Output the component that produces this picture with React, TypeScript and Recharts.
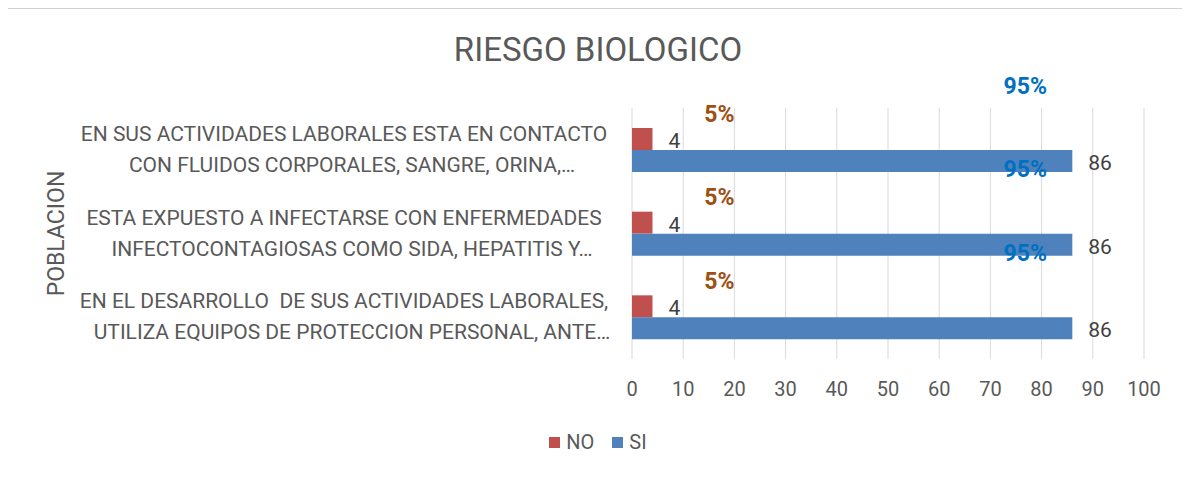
import { BarChart, Bar, XAxis, YAxis, CartesianGrid, Legend, LabelList } from 'recharts';

// Categories (two display lines each, as in the source chart)
const categories = [
  'EN SUS ACTIVIDADES LABORALES ESTA EN CONTACTO\nCON FLUIDOS CORPORALES, SANGRE, ORINA,…',
  'ESTA EXPUESTO A INFECTARSE CON ENFERMEDADES\nINFECTOCONTAGIOSAS COMO SIDA, HEPATITIS Y…',
  'EN EL DESARROLLO  DE SUS ACTIVIDADES LABORALES,\nUTILIZA EQUIPOS DE PROTECCION PERSONAL, ANTE…',
];
const noValues = [4, 4, 4];
const siValues = [86, 86, 86];
const noPercent = [5, 5, 5];
const siPercent = [95, 95, 95];
const xTicks = [0, 10, 20, 30, 40, 50, 60, 70, 80, 90, 100];

const data = categories.map((name, i) => ({
  name,
  no: noValues[i],
  si: siValues[i],
  noPct: noPercent[i],
  siPct: siPercent[i],
}));

const FONT = 'Roboto, "Noto Sans", sans-serif';
const TEXT = '#595959';

const CategoryTick = ({ x, y, payload }: any) => {
  const lines = String(payload.value).split('\n');
  return (
    <text x={x - 280} y={y} textAnchor="middle" fill={TEXT} fontSize={21} fontFamily={FONT} style={{ whiteSpace: 'pre' }}>
      <tspan x={x - 280} dy={-9}>{lines[0]}</tspan>
      <tspan x={x - 272} dy={31}>{lines[1]}</tspan>
    </text>
  );
};

// percentage labels float above the bars like in the Excel original
const NoPctLabel = ({ x, y, width, value }: any) => (
  <text x={x + width + 67} y={y - 14} textAnchor="middle" dominantBaseline="central"
    fill="#9C5011" fontSize={23} fontWeight="bold" fontFamily={FONT}>{value}%</text>
);

const SiPctLabel = ({ x, y, width, value }: any) => (
  <text x={x + width - 47} y={y - 64} textAnchor="middle" dominantBaseline="central"
    fill="#0070C0" fontSize={23} fontWeight="bold" fontFamily={FONT}>{value}%</text>
);

const ValueLabel = ({ x, y, width, height, value }: any) => (
  <text x={x + width + 16} y={y + height / 2 + 2} dominantBaseline="central"
    fill="#404040" fontSize={21} fontFamily={FONT}>{value}</text>
);

const LegendContent = ({ payload }: any) => (
  <div style={{ display: 'flex', justifyContent: 'center', gap: 18, fontFamily: FONT, fontSize: 20, color: TEXT }}>
    {(payload || []).map((p: any) => (
      <span key={p.value} style={{ display: 'flex', alignItems: 'center', gap: 6 }}>
        <span style={{ width: 11, height: 11, background: p.color, display: 'inline-block' }} />
        {p.value}
      </span>
    ))}
  </div>
);

export default function App() {
  return (
    <div style={{ position: 'relative', marginLeft: -3, width: 1184, height: 459, borderLeft: '1px solid #d0d0d0', borderTop: '1px solid #d0d0d0', background: '#fff' }}>
      <div style={{ position: 'absolute', top: 21, left: 0, width: 1184, textAlign: 'center', fontFamily: FONT, fontSize: 33, color: TEXT }}>
        RIESGO BIOLOGICO
      </div>
      <BarChart layout="vertical" width={1184} height={452} data={data}
        margin={{ top: 99, right: 46, bottom: 62, left: 0 }} barSize={22} barGap={0}>
        <CartesianGrid horizontal={false} stroke="#d9d9d9" />
        <XAxis type="number" domain={[0, 100]} ticks={xTicks} axisLine={false} tickLine={false}
          tickSize={0} tickMargin={23} height={40} interval={0}
          tick={{ fill: TEXT, fontSize: 20, fontFamily: FONT }} />
        <YAxis type="category" dataKey="name" width={626} axisLine={false} tickLine={false}
          tick={<CategoryTick />} interval={0}
          label={{ value: 'POBLACION', angle: -90, position: 'insideLeft', offset: 50,
            style: { textAnchor: 'middle', fill: TEXT, fontSize: 23, fontFamily: FONT } }} />
        <Legend verticalAlign="middle" layout="horizontal" content={<LegendContent />}
          wrapperStyle={{ top: 421, left: 0, width: 1184 }} />
        <Bar dataKey="no" name="NO" fill="#C0504D" isAnimationActive={false}>
          <LabelList dataKey="no" content={<ValueLabel />} />
          <LabelList dataKey="noPct" content={<NoPctLabel />} />
        </Bar>
        <Bar dataKey="si" name="SI" fill="#4F81BD" isAnimationActive={false}>
          <LabelList dataKey="si" content={<ValueLabel />} />
          <LabelList dataKey="siPct" content={<SiPctLabel />} />
        </Bar>
      </BarChart>
    </div>
  );
}
